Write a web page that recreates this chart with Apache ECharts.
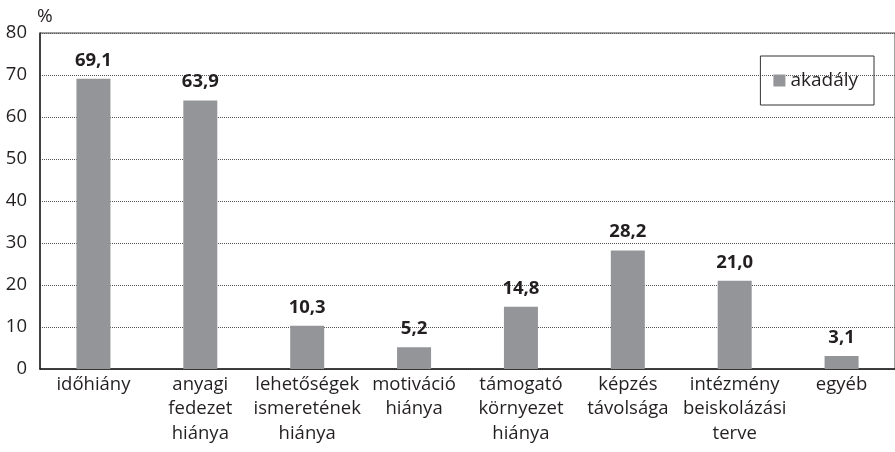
<!DOCTYPE html>
<html>
<head>
<meta charset="utf-8">
<script src="https://cdn.jsdelivr.net/npm/echarts@6/dist/echarts.min.js"></script>
<style>
  html, body { margin: 0; padding: 0; background: #fff; }
  #main { width: 895px; height: 452px; }
</style>
</head>
<body>
<div id="main"></div>
<script>
// adatok
var categories = [
  "időhiány",
  "anyagi\nfedezet\nhiánya",
  "lehetőségek\nismeretének\nhiánya",
  "motiváció\nhiánya",
  "támogató\nkörnyezet\nhiánya",
  "képzés\ntávolsága",
  "intézmény\nbeiskolázási\nterve",
  "egyéb"
];
var values = [69.1, 63.9, 10.3, 5.2, 14.8, 28.2, 21.0, 3.1];
var seriesName = "akadály";

(function() {
  var myChart = echarts.init(document.getElementById("main"));
  var font = "'Open Sans', sans-serif";
  var textColor = "#231f20";

  var option = {
    animation: false,
    textStyle: { fontFamily: font },
    grid: {
      left: 40,
      right: 0,
      top: 33,
      bottom: 83,
      show: true,
      borderColor: "#444",
      borderWidth: 1
    },
    legend: {
      data: [seriesName],
      right: 21,
      top: 56,
      padding: [14, 16, 14, 13],
      borderColor: "#333",
      borderWidth: 1,
      itemWidth: 12,
      itemHeight: 12,
      icon: "rect",
      textStyle: { color: textColor, fontSize: 19, lineHeight: 21, fontFamily: font }
    },
    xAxis: {
      type: "category",
      data: categories,
      axisTick: { show: false },
      axisLine: { lineStyle: { color: "#231f20", width: 1.5 } },
      axisLabel: {
        color: textColor,
        fontSize: 18.5,
        lineHeight: 24.5,
        margin: 3,
        interval: 0,
        fontFamily: font
      }
    },
    yAxis: {
      type: "value",
      min: 0,
      max: 80,
      interval: 10,
      name: "%",
      nameLocation: "end",
      nameGap: 7,
      nameTextStyle: { color: textColor, fontSize: 19, align: "left", fontFamily: font, padding: [0, 0, 0, -3] },
      axisTick: { show: false },
      axisLine: { show: true, lineStyle: { color: "#231f20", width: 1.5 } },
      axisLabel: { color: textColor, fontSize: 18.5, margin: 13, fontFamily: font },
      splitLine: { lineStyle: { color: "#555", type: "dotted", width: 1 } }
    },
    series: [{
      name: seriesName,
      type: "bar",
      data: values,
      barWidth: 34,
      itemStyle: { color: "#939598" },
      label: {
        show: true,
        position: "top",
        distance: 9,
        color: textColor,
        fontSize: 18.5,
        fontWeight: "bold",
        fontFamily: font,
        formatter: function(p) {
          return p.value.toFixed(1).replace(".", ",");
        }
      }
    }]
  };

  myChart.setOption(option);
})();
</script>
</body>
</html>
